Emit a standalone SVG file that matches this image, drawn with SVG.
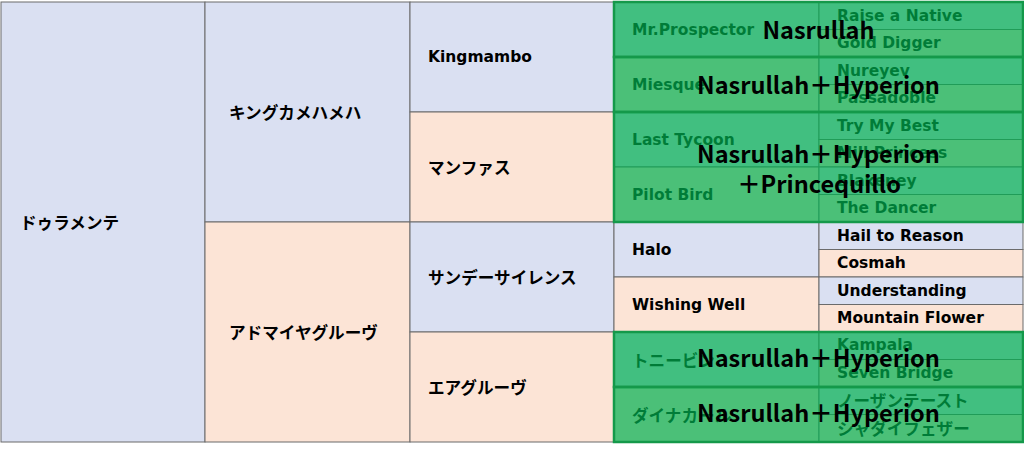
<svg xmlns="http://www.w3.org/2000/svg" width="1024" height="449" viewBox="0 0 1024 449">
<style>
.b{fill:#DAE0F2;stroke:#6b6b6b;stroke-width:1}
.p{fill:#FCE4D6;stroke:#6b6b6b;stroke-width:1}
.t{font-family:"DejaVu Sans","Noto Sans CJK JP",sans-serif;font-size:15.5px;font-weight:bold;fill:#000;dominant-baseline:central}
.j{font-family:"Noto Sans CJK JP",sans-serif;font-size:16.6px;font-weight:bold;fill:#000;dominant-baseline:central}
.g{fill:#00B050;fill-opacity:0.7;stroke:#14994a;stroke-width:2.5}
.big{font-family:"Noto Sans CJK JP","Noto Sans",sans-serif;font-size:23.5px;font-weight:bold;fill:#000;text-anchor:middle;dominant-baseline:central}
</style>
<rect width="1024" height="449" fill="#fff"/>
<g id="connectors"/>
<g id="n-duramente"><rect class="b" x="1" y="2" width="204" height="440"/><text class="j" x="20" y="222">ドゥラメンテ</text></g>
<g id="n-kingkamehameha"><rect class="b" x="205" y="2" width="205" height="220"/><text class="j" x="229" y="112">キングカメハメハ</text></g>
<g id="n-admiregroove"><rect class="p" x="205" y="222" width="205" height="220"/><text class="j" x="229" y="332">アドマイヤグルーヴ</text></g>
<g id="n-kingmambo"><rect class="b" x="410" y="2" width="204" height="110"/><text class="t" x="428" y="57">Kingmambo</text></g>
<g id="n-manfath"><rect class="p" x="410" y="112" width="204" height="110"/><text class="j" x="428" y="167">マンファス</text></g>
<g id="n-sundaysilence"><rect class="b" x="410" y="222" width="204" height="110"/><text class="j" x="428" y="277">サンデーサイレンス</text></g>
<g id="n-airgroove"><rect class="p" x="410" y="332" width="204" height="110"/><text class="j" x="428" y="387">エアグルーヴ</text></g>
<g id="n-mrprospector"><rect class="b" x="614" y="2" width="205" height="55"/><text class="t" x="632" y="29.5">Mr.Prospector</text></g>
<g id="n-miesque"><rect class="p" x="614" y="57" width="205" height="55"/><text class="t" x="632" y="84.5">Miesque</text></g>
<g id="n-lasttycoon"><rect class="b" x="614" y="112" width="205" height="55"/><text class="t" x="632" y="139.5">Last Tycoon</text></g>
<g id="n-pilotbird"><rect class="p" x="614" y="167" width="205" height="55"/><text class="t" x="632" y="194.5">Pilot Bird</text></g>
<g id="n-halo"><rect class="b" x="614" y="222" width="205" height="55"/><text class="t" x="632" y="249.5">Halo</text></g>
<g id="n-wishingwell"><rect class="p" x="614" y="277" width="205" height="55"/><text class="t" x="632" y="304.5">Wishing Well</text></g>
<g id="n-tonybin"><rect class="b" x="614" y="332" width="205" height="55"/><text class="j" x="632" y="359.5" font-weight="normal">トニービン</text></g>
<g id="n-dynacarl"><rect class="p" x="614" y="387" width="205" height="55"/><text class="j" x="632" y="414.5" font-weight="normal">ダイナカール</text></g>
<g id="n-raiseanative"><rect class="b" x="819" y="2" width="204" height="27.5"/><text class="t" x="837" y="15.75">Raise a Native</text></g>
<g id="n-golddigger"><rect class="p" x="819" y="29.5" width="204" height="27.5"/><text class="t" x="837" y="43.25">Gold Digger</text></g>
<g id="n-nureyev"><rect class="b" x="819" y="57" width="204" height="27.5"/><text class="t" x="837" y="70.75">Nureyev</text></g>
<g id="n-passadoble"><rect class="p" x="819" y="84.5" width="204" height="27.5"/><text class="t" x="837" y="98.25">Passadoble</text></g>
<g id="n-trymybest"><rect class="b" x="819" y="112" width="204" height="27.5"/><text class="t" x="837" y="125.75">Try My Best</text></g>
<g id="n-millprincess"><rect class="p" x="819" y="139.5" width="204" height="27.5"/><text class="t" x="837" y="153.25">Mill Princess</text></g>
<g id="n-blakeney"><rect class="b" x="819" y="167" width="204" height="27.5"/><text class="t" x="837" y="180.75">Blakeney</text></g>
<g id="n-thedancer"><rect class="p" x="819" y="194.5" width="204" height="27.5"/><text class="t" x="837" y="208.25">The Dancer</text></g>
<g id="n-hailtoreason"><rect class="b" x="819" y="222" width="204" height="27.5"/><text class="t" x="837" y="235.75">Hail to Reason</text></g>
<g id="n-cosmah"><rect class="p" x="819" y="249.5" width="204" height="27.5"/><text class="t" x="837" y="263.25">Cosmah</text></g>
<g id="n-understanding"><rect class="b" x="819" y="277" width="204" height="27.5"/><text class="t" x="837" y="290.75">Understanding</text></g>
<g id="n-mountainflower"><rect class="p" x="819" y="304.5" width="204" height="27.5"/><text class="t" x="837" y="318.25">Mountain Flower</text></g>
<g id="n-kampala"><rect class="b" x="819" y="332" width="204" height="27.5"/><text class="t" x="837" y="344.5">Kampala</text></g>
<g id="n-sevenbridge"><rect class="p" x="819" y="359.5" width="204" height="27.5"/><text class="t" x="837" y="373.25">Seven Bridge</text></g>
<g id="n-northerntaste"><rect class="b" x="819" y="387" width="204" height="27.5"/><text class="j" x="837" y="399.5" font-weight="normal">ノーザンテースト</text></g>
<g id="n-shadaifeather"><rect class="p" x="819" y="414.5" width="204" height="27.5"/><text class="j" x="837" y="428.25" font-weight="normal">シャダイフェザー</text></g>
<g id="overlay-1"><rect class="g" x="614" y="2" width="409" height="55"/><text class="big" x="818.5" y="29">Nasrullah</text></g>
<g id="overlay-2"><rect class="g" x="614" y="57" width="409" height="55"/><text class="big" x="818.5" y="84">Nasrullah＋Hyperion</text></g>
<g id="overlay-3"><rect class="g" x="614" y="112" width="409" height="110"/><text class="big" x="818.5" y="153">Nasrullah＋Hyperion</text><text class="big" x="819" y="183">＋Princequillo</text></g>
<g id="overlay-4"><rect class="g" x="614" y="332" width="409" height="55"/><text class="big" x="818.5" y="357">Nasrullah＋Hyperion</text></g>
<g id="overlay-5"><rect class="g" x="614" y="387" width="409" height="55"/><text class="big" x="818.5" y="412">Nasrullah＋Hyperion</text></g>
</svg>
